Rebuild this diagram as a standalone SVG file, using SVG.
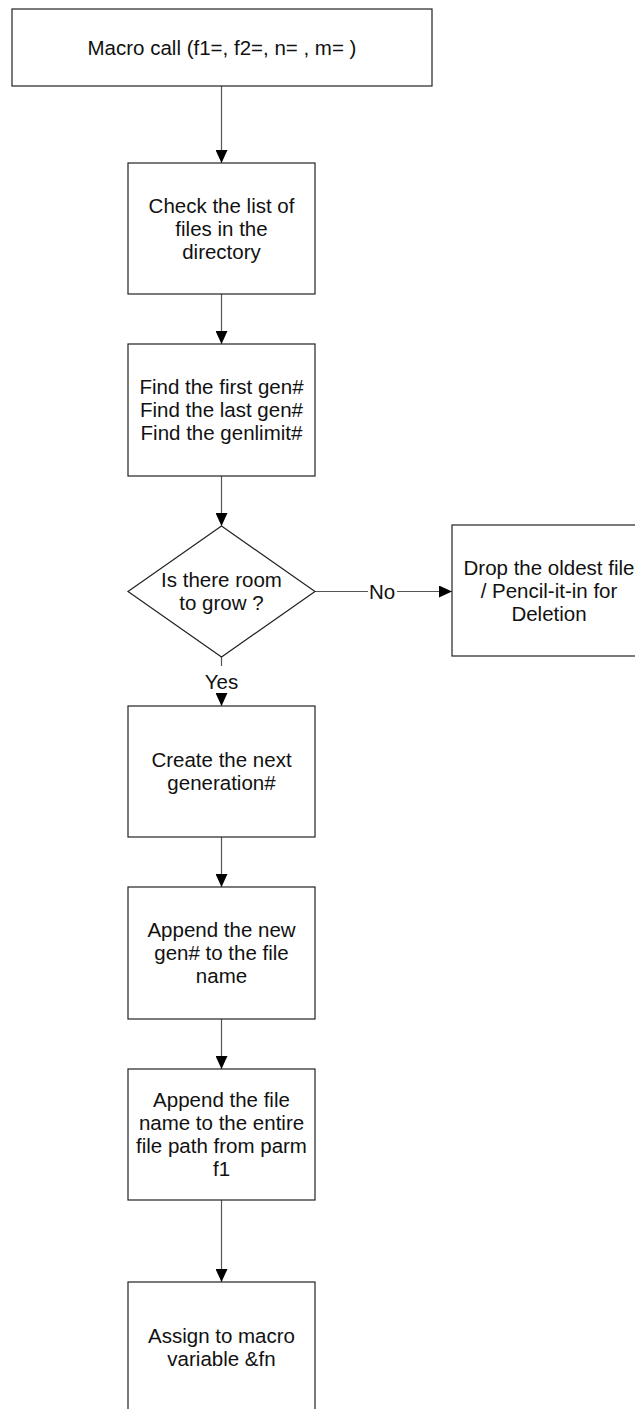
<svg xmlns="http://www.w3.org/2000/svg" width="635" height="1409" viewBox="0 0 635 1409">
<defs>
<marker id="ah" markerWidth="13" markerHeight="12" refX="13" refY="6" orient="auto" markerUnits="userSpaceOnUse">
<path d="M0,0 L13,6 L0,12 Z" fill="#000"/>
</marker>
<style>
.box{fill:#fff;stroke:#222;stroke-width:1.2}
.con{fill:none;stroke:#555;stroke-width:1.2}
text{font-family:"Liberation Sans",Arial,sans-serif;font-size:20.5px;fill:#111;text-anchor:middle}
</style>
</defs>
<rect width="635" height="1409" fill="#fff"/>
<g id="connectors">
<line class="con" x1="221.5" y1="86" x2="221.5" y2="163" marker-end="url(#ah)"/>
<line class="con" x1="221.5" y1="294" x2="221.5" y2="344" marker-end="url(#ah)"/>
<line class="con" x1="221.5" y1="476" x2="221.5" y2="526" marker-end="url(#ah)"/>
<line class="con" x1="315" y1="591.5" x2="368" y2="591.5"/>
<line class="con" x1="397" y1="591.5" x2="452" y2="591.5" marker-end="url(#ah)"/>
<text x="382" y="598.5">No</text>
<line class="con" x1="221.5" y1="657" x2="221.5" y2="666"/>
<text x="221.5" y="689">Yes</text>
<line class="con" x1="221.5" y1="695" x2="221.5" y2="706" marker-end="url(#ah)"/>
<line class="con" x1="221.5" y1="837" x2="221.5" y2="887" marker-end="url(#ah)"/>
<line class="con" x1="221.5" y1="1019" x2="221.5" y2="1069" marker-end="url(#ah)"/>
<line class="con" x1="221.5" y1="1200" x2="221.5" y2="1282" marker-end="url(#ah)"/>
</g>
<g id="n1">
<rect class="box" x="12" y="9" width="420" height="77"/>
<text x="222" y="55">Macro call (f1=, f2=, n= , m= )</text>
</g>
<g id="n2">
<rect class="box" x="128" y="163" width="187" height="131"/>
<text x="221.5" y="212.5">Check the list of</text>
<text x="221.5" y="235.5">files in the</text>
<text x="221.5" y="258.5">directory</text>
</g>
<g id="n3">
<rect class="box" x="128" y="344" width="187" height="132"/>
<text x="221.5" y="394">Find the first gen#</text>
<text x="221.5" y="417">Find the last gen#</text>
<text x="221.5" y="440">Find the genlimit#</text>
</g>
<g id="n4">
<polygon class="box" points="221.5,526 315,591.5 221.5,657 128,591.5"/>
<text x="221.5" y="586.5">Is there room</text>
<text x="221.5" y="609.5">to grow ?</text>
</g>
<g id="n5">
<rect class="box" x="452" y="525" width="195" height="131"/>
<text x="549" y="575">Drop the oldest file</text>
<text x="549" y="598">/ Pencil-it-in for</text>
<text x="549" y="621">Deletion</text>
</g>
<g id="n6">
<rect class="box" x="128" y="706" width="187" height="131"/>
<text x="221.5" y="767">Create the next</text>
<text x="221.5" y="790">generation#</text>
</g>
<g id="n7">
<rect class="box" x="128" y="887" width="187" height="132"/>
<text x="221.5" y="937">Append the new</text>
<text x="221.5" y="960">gen# to the file</text>
<text x="221.5" y="983">name</text>
</g>
<g id="n8">
<rect class="box" x="128" y="1069" width="187" height="131"/>
<text x="221.5" y="1107">Append the file</text>
<text x="221.5" y="1130">name to the entire</text>
<text x="221.5" y="1153">file path from parm</text>
<text x="221.5" y="1176">f1</text>
</g>
<g id="n9">
<rect class="box" x="128" y="1282" width="187" height="135"/>
<text x="221.5" y="1343">Assign to macro</text>
<text x="221.5" y="1366">variable &amp;fn</text>
</g>
</svg>
